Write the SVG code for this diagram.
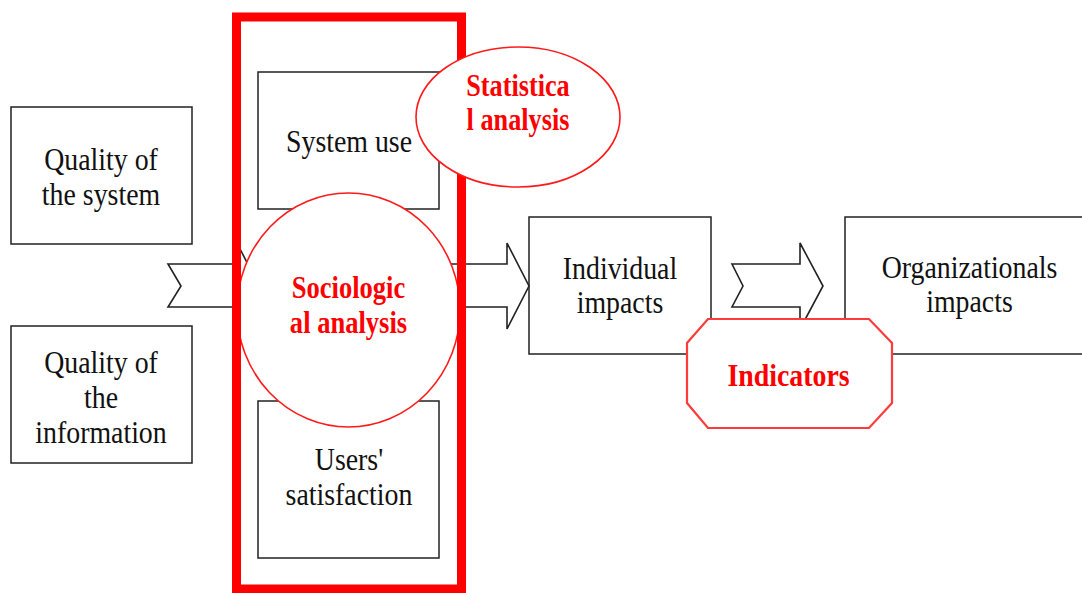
<svg xmlns="http://www.w3.org/2000/svg" width="1082" height="593" viewBox="0 0 1082 593">
<style>
.box{fill:#fff;stroke:#222;stroke-width:1.5}
.arr{fill:#fff;stroke:#222;stroke-width:1.6;stroke-linejoin:miter}
.ell{fill:#fff;stroke:#ff1a1a;stroke-width:1.6}
.oct{fill:#fff;stroke:#ff3b3b;stroke-width:2.2}
.frame{fill:none;stroke:#ff0000;stroke-width:9}
.t{font-family:"Liberation Serif","Times New Roman",serif;font-size:32px;fill:#111;text-anchor:middle}
.r{font-family:"Liberation Serif","Times New Roman",serif;font-size:32px;font-weight:bold;fill:#ff0000;text-anchor:middle}
</style>
<rect width="1082" height="593" fill="#fff"/>
<g id="quality-system">
<rect class="box" x="11" y="107" width="181" height="137"/>
<text class="t" transform="translate(101 0) scale(0.87 1)" y="170">Quality of</text>
<text class="t" transform="translate(101 0) scale(0.87 1)" y="205">the system</text>
</g>
<g id="quality-information">
<rect class="box" x="11" y="326" width="181" height="137"/>
<text class="t" transform="translate(101 0) scale(0.87 1)" y="373">Quality of</text>
<text class="t" transform="translate(101 0) scale(0.87 1)" y="408">the</text>
<text class="t" transform="translate(101 0) scale(0.87 1)" y="443">information</text>
</g>
<g id="system-use">
<rect class="box" x="258" y="72" width="181" height="137"/>
<text class="t" transform="translate(349 0) scale(0.87 1)" y="152">System use</text>
</g>
<g id="users-satisfaction">
<rect class="box" x="258" y="401" width="181" height="157"/>
<text class="t" transform="translate(349 0) scale(0.87 1)" y="470">Users'</text>
<text class="t" transform="translate(349 0) scale(0.87 1)" y="505">satisfaction</text>
</g>
<g id="individual-impacts">
<rect class="box" x="529" y="217" width="182" height="137"/>
<text class="t" transform="translate(620 0) scale(0.87 1)" y="279">Individual</text>
<text class="t" transform="translate(620 0) scale(0.87 1)" y="313">impacts</text>
</g>
<g id="organizational-impacts">
<rect class="box" x="845" y="217" width="250" height="137"/>
<text class="t" transform="translate(969.5 0) scale(0.87 1)" y="278">Organizationals</text>
<text class="t" transform="translate(969.5 0) scale(0.87 1)" y="312">impacts</text>
</g>
<g id="connectors">
<path class="arr" d="M168,264 L237,264 L237,243 L259,286 L237,329 L237,307 L168,307 L181,286 Z"/>
<path class="arr" d="M320,264 L507,264 L507,243 L529,286 L507,329 L507,307 L320,307 Z"/>
<path class="arr" d="M732,264 L800,264 L800,243 L823,286 L800,329 L800,307 L732,307 L743,286 Z"/>
</g>
<g id="sociological-analysis">
<ellipse class="ell" cx="348.5" cy="310" rx="111.5" ry="117"/>
<text class="r" transform="translate(348.5 0) scale(0.83 1)" y="298">Sociologic</text>
<text class="r" transform="translate(348.5 0) scale(0.83 1)" y="333">al analysis</text>
</g>
<g id="frame">
<rect class="frame" x="236.5" y="17" width="225" height="572"/>
</g>
<g id="statistical-analysis">
<ellipse class="ell" cx="518" cy="117" rx="102" ry="70"/>
<text class="r" transform="translate(518 0) scale(0.82 1)" y="96">Statistica</text>
<text class="r" transform="translate(518 0) scale(0.82 1)" y="130">l analysis</text>
</g>
<g id="indicators">
<polygon class="oct" points="708,319 869,319 892,343 892,403 869,428 708,428 687,403 687,343"/>
<text class="r" transform="translate(788.5 0) scale(0.87 1)" y="386">Indicators</text>
</g>
</svg>
